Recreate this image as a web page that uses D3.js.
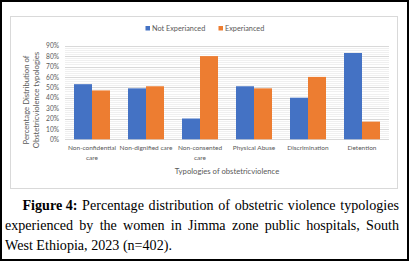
<!DOCTYPE html>
<html><head><meta charset="utf-8">
<script src="https://cdn.jsdelivr.net/npm/d3@7/dist/d3.min.js"></script>
<style>
html,body{margin:0;padding:0;background:#fff;}
svg{display:block;}
</style></head>
<body>
<svg id="c" width="409" height="261"></svg>
<script>
const categories = [["Non-confidential","care"],["Non-dignified care"],["Non-consented","care"],["Physical Abuse"],["Discrimination"],["Detention"]];
const seriesNames = ["Not Experianced","Experianced"];
const notExperienced = [0.53, 0.49, 0.20, 0.51, 0.40, 0.83];
const experienced   = [0.47, 0.51, 0.80, 0.49, 0.60, 0.17];
const yTicks = [0,0.1,0.2,0.3,0.4,0.5,0.6,0.7,0.8,0.9];
const colors = ["#4472C4","#ED7D31"];
const captionLines = [
  {bold:"Figure 4:", text:"Percentage distribution of obstetric violence typologies", indent:true, justify:true},
  {text:"experienced by the women in Jimma zone public hospitals, South", justify:true},
  {text:"West Ethiopia, 2023 (n=402).", justify:false}
];

const svg = d3.select("#c");
const font = "Lato, 'Open Sans', sans-serif";
const txt = "#595959";

svg.append("rect").attr("x",1).attr("y",1).attr("width",407).attr("height",259)
  .attr("fill","#fff").attr("stroke","#000").attr("stroke-width",2);
svg.append("rect").attr("x",10.5).attr("y",16.5).attr("width",387).attr("height",172)
  .attr("fill","#fff").attr("stroke","#d9d9d9").attr("stroke-width",1);

const x0 = d3.scaleBand().domain(d3.range(categories.length)).range([65,389]).paddingInner(0).paddingOuter(0);
const x1 = d3.scaleBand().domain([0,1]).range([0,x0.bandwidth()]).paddingOuter(0.5).paddingInner(0);
const y = d3.scaleLinear().domain([0,0.9]).range([139.3,45.7]);

const minor = d3.range(0,0.9001,0.02).filter(v=>Math.abs(v*10-Math.round(v*10))>1e-6);
svg.append("g").selectAll("line").data(minor).join("line")
  .attr("x1",65).attr("x2",389).attr("y1",d=>Math.round(y(d))+0.5).attr("y2",d=>Math.round(y(d))+0.5)
  .attr("stroke","#f0f0f0").attr("stroke-width",1);
svg.append("g").selectAll("line").data(yTicks).join("line")
  .attr("x1",65).attr("x2",389).attr("y1",d=>Math.round(y(d))+0.5).attr("y2",d=>Math.round(y(d))+0.5)
  .attr("stroke","#d9d9d9").attr("stroke-width",1);

const yAxis = d3.axisLeft(y).tickValues(yTicks).tickFormat(d3.format(".0%")).tickSize(0).tickPadding(0);
const ya = svg.append("g").attr("transform","translate(59,0)").call(yAxis);
ya.select(".domain").remove();
ya.selectAll("text").attr("font-family",font).attr("font-size",6.6).attr("fill",txt);

const data = [notExperienced, experienced];
const g = svg.append("g");
categories.forEach((c,i)=>{
  data.forEach((arr,s)=>{
    g.append("rect")
      .attr("x", x0(i)+x1(s))
      .attr("y", y(arr[i]))
      .attr("width", x1.bandwidth())
      .attr("height", y(0)-y(arr[i]))
      .attr("fill", colors[s]);
  });
});

const xl = svg.append("g");
categories.forEach((lines,i)=>{
  const t = xl.append("text").attr("x", x0(i)+x0.bandwidth()/2).attr("y",150)
    .attr("text-anchor","middle").attr("font-family",font).attr("font-size",6.5).attr("fill",txt);
  lines.forEach((l,k)=>t.append("tspan").attr("x",x0(i)+x0.bandwidth()/2).attr("dy",k?9.5:0).text(l));
});

svg.append("text").attr("x",227).attr("y",173.5).attr("text-anchor","middle")
  .attr("font-family",font).attr("font-size",7.7).attr("fill",txt).text("Typologies of obstetricviolence");
const yt = svg.append("text").attr("transform","translate(28.5,100) rotate(-90)").attr("text-anchor","middle")
  .attr("font-family",font).attr("font-size",7.7).attr("fill",txt);
yt.append("tspan").attr("x",0).attr("y",0).text("Percentage Distribution of");
yt.append("tspan").attr("x",0).attr("y",10).text("Obstetricviolence typologies");

const leg = svg.append("g");
const legX = [145.5, 218.5];
seriesNames.forEach((n,s)=>{
  leg.append("rect").attr("x",legX[s]).attr("y",26).attr("width",4.5).attr("height",4.5).attr("fill",colors[s]);
  leg.append("text").attr("x",legX[s]+6.5).attr("y",30.8).attr("font-family",font).attr("font-size",7.3)
    .attr("fill",txt).text(n);
});

const capFont = "'Liberation Serif','Times New Roman',serif";
const capSize = 14.1;
const baseY = [210, 230, 249.5];
const left = 5, right = 399;
captionLines.forEach((ln,li)=>{
  const words = [];
  if (ln.bold) words.push({t:ln.bold,b:true});
  ln.text.split(" ").forEach(w=>words.push({t:w,b:false}));
  const grp = svg.append("g");
  const nodes = words.map(w=>grp.append("text").attr("y",baseY[li]).attr("font-family",capFont)
    .attr("font-size",capSize).attr("font-weight",w.b?"bold":"normal").attr("fill","#000").text(w.t));
  const widths = nodes.map(n=>n.node().getComputedTextLength());
  const startX = left + (ln.indent ? 17.5 : 0);
  const total = d3.sum(widths);
  const gap = ln.justify ? (right-startX-total)/(words.length-1) : capSize*0.25;
  let cx = startX;
  nodes.forEach((n,k)=>{ n.attr("x",cx); cx += widths[k]+gap; });
});
</script>
</body></html>
